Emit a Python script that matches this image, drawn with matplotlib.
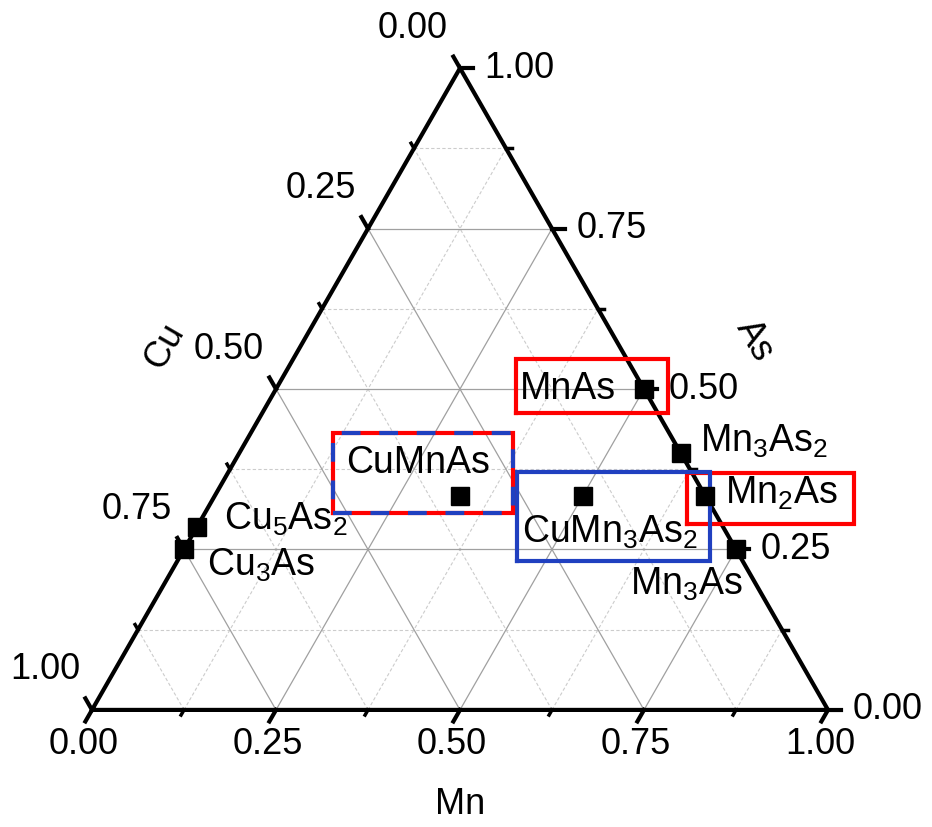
import matplotlib.pyplot as plt
import numpy as np

plt.rcParams['font.family'] = ['Liberation Sans', 'DejaVu Sans']
plt.rcParams['mathtext.default'] = 'regular'

# compositions (Cu, Mn, As)
names = ['MnAs', 'Mn$_3$As$_2$', 'Mn$_2$As', 'Mn$_3$As', 'CuMnAs',
         'CuMn$_3$As$_2$', 'Cu$_5$As$_2$', 'Cu$_3$As']
cu = [0, 0, 0, 0, 1/3, 1/6, 5/7, 3/4]
mn = [1/2, 3/5, 2/3, 3/4, 1/3, 1/2, 0, 0]
as_ = [1/2, 2/5, 1/3, 1/4, 1/3, 1/3, 2/7, 1/4]

tick_vals = [0.0, 0.25, 0.5, 0.75, 1.0]
minor_vals = [0.125, 0.375, 0.625, 0.875]
tick_labels = ['0.00', '0.25', '0.50', '0.75', '1.00']

H = np.sqrt(3) / 2


def xy(m, a):
    return m + a / 2, a * H


fig = plt.figure(figsize=(9.32, 8.27), dpi=100)
ax = fig.add_axes([0, 0, 1, 1])
ax.set_xlim(-0.125, 1.1413)
ax.set_ylim(-0.158, 0.958)
ax.axis('off')

FS = 26

# grid lines
for v in minor_vals + tick_vals[1:-1]:
    major = v in tick_vals
    kw = dict(color='#a0a0a0', lw=0.9, ls='-', zorder=1) if major else \
        dict(color='#cccccc', lw=0.8, ls=(0, (3, 2)), zorder=1)
    # constant As
    p, q = xy(0, v), xy(1 - v, v)
    ax.plot([p[0], q[0]], [p[1], q[1]], **kw)
    # constant Mn
    p, q = xy(v, 0), xy(v, 1 - v)
    ax.plot([p[0], q[0]], [p[1], q[1]], **kw)
    # constant Cu
    p, q = xy(1 - v, 0), xy(0, 1 - v)
    ax.plot([p[0], q[0]], [p[1], q[1]], **kw)

# triangle frame
ax.plot([0, 1, 0.5, 0], [0, 0, H, 0], color='black', lw=3, zorder=3,
        solid_joinstyle='miter')

L, l = 0.018, 0.008
c60, s60 = 0.5, H
for v, lab in zip(tick_vals, tick_labels):
    # Mn (bottom), ticks down-left
    x0, y0 = xy(v, 0)
    ax.plot([x0, x0 - c60 * L], [y0, y0 - s60 * L], color='black', lw=3, zorder=3)
    ax.text(x0 - 0.011, y0 - 0.047, lab, fontsize=FS, ha='center', va='center')
    # As (right), ticks to the right
    x0, y0 = xy(1 - v, v)
    ax.plot([x0, x0 + L], [y0, y0], color='black', lw=3, zorder=3)
    ax.text(x0 + 0.033, y0, lab, fontsize=FS, ha='left', va='center')
    # Cu (left), ticks up-left
    x0, y0 = xy(0, 1 - v)
    ax.plot([x0, x0 - c60 * L], [y0, y0 + s60 * L], color='black', lw=3, zorder=3)
    ax.text(x0 - 0.064, y0 + 0.054, lab, fontsize=FS, ha='center', va='center')

for v in minor_vals:
    x0, y0 = xy(v, 0)
    ax.plot([x0, x0 - c60 * l], [y0, y0 - s60 * l], color='black', lw=2.5, zorder=3)
    x0, y0 = xy(1 - v, v)
    ax.plot([x0, x0 + l], [y0, y0], color='black', lw=2.5, zorder=3)
    x0, y0 = xy(0, 1 - v)
    ax.plot([x0, x0 - c60 * l], [y0, y0 + s60 * l], color='black', lw=2.5, zorder=3)

# axis titles
ax.text(0.500, -0.128, 'Mn', fontsize=FS, ha='center', va='center')
ax.text(0.099, 0.491, 'Cu', fontsize=FS, ha='center', va='center', rotation=60)
ax.text(0.901, 0.498, 'As', fontsize=FS, ha='center', va='center', rotation=-60)

# data points
px, py = xy(np.array(mn), np.array(as_))
ax.plot(px, py, 's', color='black', ms=13, zorder=5)

# label offsets from each point (dx, dy, ha)
offsets = [(-0.038, 0.0, 'right'), (0.026, 0.016, 'left'), (0.027, 0.003, 'left'),
           (-0.067, -0.047, 'center'), (-0.057, 0.045, 'center'),
           (0.037, -0.049, 'center'), (0.036, 0.010, 'left'), (0.031, -0.022, 'left')]
for i, n in enumerate(names):
    dx, dy, ha = offsets[i]
    ax.text(px[i] + dx, py[i] + dy, n, fontsize=27, ha=ha, va='center', zorder=6)

# highlight boxes (x0, x1, y0, y1)
red_boxes = [(0.576, 0.783, 0.400, 0.474), (0.808, 1.035, 0.251, 0.320)]
blue_boxes = [(0.577, 0.840, 0.201, 0.321)]
mixed_boxes = [(0.327, 0.572, 0.266, 0.374)]


def box(b, **kw):
    x0, x1, y0, y1 = b
    ax.plot([x0, x1, x1, x0, x0], [y0, y0, y1, y1, y0], lw=3, zorder=4,
            solid_joinstyle='miter', **kw)


for b in red_boxes:
    box(b, color='#ff0000')
for b in blue_boxes:
    box(b, color='#2040c0')
for b in mixed_boxes:
    box(b, color='#ff0000')
    box(b, color='#2040c0', ls=(0, (4.5, 4.5)))

fig.savefig('out.png', dpi=100)
